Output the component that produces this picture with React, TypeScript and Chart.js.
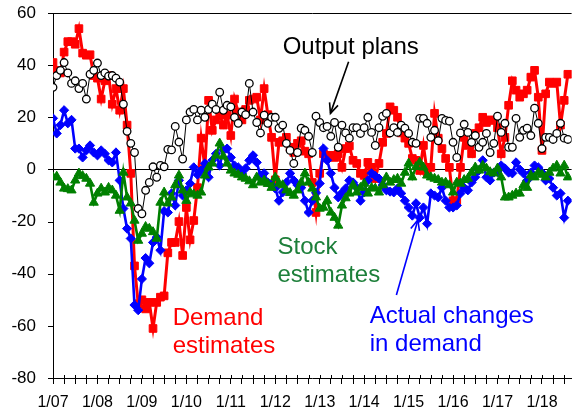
import React, { useEffect, useRef } from 'react';
import { Chart, registerables } from 'chart.js';

Chart.register(...registerables);

// Monthly observations from Jan 2007 (index 0) to Aug 2018 (index 139)
const yearLabels = ['1/07', '1/08', '1/09', '1/10', '1/11', '1/12', '1/13', '1/14', '1/15', '1/16', '1/17', '1/18'];
const yTickValues = [-80, -60, -40, -20, 0, 20, 40, 60];

const outputPlans = [
  31.5, 36, 38, 41, 37, 33, 34, 31, 33, 27, 36.5, 38,
  40.8, 36, 37, 35.8, 36, 35, 33.5, 25, 14.6, 10, 6.5, -15,
  -17, -8, -5, 1, -3, 1.5, 1, 7.7, 7.5, 16.5, 10.5, 4,
  19, 22, 23, 19, 22.7, 20, 23, 25, 23, 29.6, 22.7, 24.6,
  24, 20, 17.7, 22, 21, 33, 22, 18, 14, 20.8, 17.7, 20,
  20, 15.8, 17, 10, 7.3, 2.3, 6.5, 15.8, 15, 12.7, 6.5, 20.4,
  18, 16, 16.5, 12.7, 18, 8.5, 17, 14, 12, 16, 16, 13.8,
  16, 20, 14.2, 9.2, 16, 20.4, 21.5, 14, 16, 14.2, 17, 15.8,
  13.8, 10.4, 10, 19.6, 19.6, 17.7, 12.3, 15, 11, 19.6, 18.8, 18.5,
  10.4, 4.6, 14, 17.3, 14.2, 10.4, 13, 8.5, 10.4, 13.8, 6.5, 10,
  20.4, 14.2, 17.7, 8.5, 8.5, 19.6, 12.3, 15, 15.8, 13, 23.5, 17.7,
  8, 12.3, 12.3, 11.5, 13.8, 17.7, 12, 11.5,
];

const demandEstimates = [
  41, 38, 37, 45, 49, 49, 48, 54, 44.6, 43.8, 44, 36,
  35, 27, 34, 36, 25, 31, 22.7, 31, 17, -1.5, -37, -51.5,
  -50, -53.5, -51, -61, -51, -49, -48.5, -32, -28, -28, -20, -33,
  -14.6, -27, -19.6, -7, 12, 0.8, 26.5, 15, 19, 20.8, 17, 20.8,
  13, 27, 22, 19, 23, 26.5, 27, 27.7, 19, 31, 21, 12.3,
  -4, 10.4, 11, 12.3, 8.5, 6.5, 10, 11, 7, 6, -5, -16.5,
  -1.5, 6, 4.6, 5.4, 4.6, 6, 0.8, 8, 9, 3.5, 2.3, -1.5,
  -2.3, 2.7, 0.8, -3.5, 2.3, 10.4, 13.8, 24, 22.7, 20, 14, 12,
  10, 4.2, 3.5, -0.4, 9.2, -1, 0.8, 21.5, 12, 8, 4.2, 0.8,
  -12, -12, 0.8, 12.3, 9.2, 6, 13.8, 16, 20, 18, 19, 18.8,
  16, 6, 12.3, 24.6, 34, 30.4, 27.7, 29, 30.4, 35.4, 38, 27.7,
  7.3, 29, 33.5, 33, 33.5, 17, 26.5, 36.5,
];

const actualDemand = [
  19.6, 13.8, 17, 22.7, 17.7, 19, 8, 8, 4.6, 7.3, 9.2, 6.5,
  5.4, 7.3, 6, 3.5, 2.7, 6.5, -4.2, -15, -22.7, -26.5, -52, -54,
  -42, -34, -36, -28, -26, -31, -16, -16.5, -9.2, -13.8, -4.2, -10,
  -8, -5.4, 0.8, -2, -0.4, 2.3, -3, 3.5, 6, 1.5, 7.3, 8,
  4.6, 1.5, 0.8, -1.5, 0.4, 3.5, 5.4, 2.7, -2.3, -1.5, -5, -6,
  -7.3, -12, -8.8, -5, -1.5, -4.2, -6, -7, -12, -16.5, -12, -9,
  -5.4, 8, 3.5, -1.5, -7, -10.7, -9, -7.3, -4.2, -5, -7, -12,
  -8.8, -4.2, -1.5, -2.5, -3.5, -6, -8, -8.5, -8.8, -7.3, -9.2, -12,
  -14.6, -17.7, -13, -18.5, -14.6, -20.8, -9.2, -10, -10.7, -7, -12, -14.6,
  -14.6, -13.8, -9.2, -7, -8, -5, -3, -0.4, 3.5, -3, -4.2, -1.2,
  -1, 1.5, 0.4, -1.2, -1.5, 2.7, 0, -1.5, -4.2, -1.2, 1.5, 0.8,
  -1.2, -4.2, -3.5, -7, -10, -9.2, -18.5, -12,
];

const stockEstimates = [
  -3, -2.7, -5, -7.3, -7.5, -8, -4.2, -1.5, -2.5, -3.5, -5.4, -12.7,
  -9.2, -7.3, -8.8, -7, -8, -10, -15.8, -1.2, -10.7, -13, -19.6, -27.3,
  -24.6, -22, -22.7, -24, -26.5, -12.7, -8.8, -13, -10.7, -6, -2.3, -8,
  -12, -8.8, -9.5, -10, -8.8, -2.3, 0.8, 2.3, 5.4, 10, 5, 2.3,
  -0.4, -1.5, -2, -3, -3.5, -4.5, -6, -3, -5, -4.2, -5.5, -7,
  -3, -5.4, -6, -8, -9, -10, -8, -5, -1.5, -5, -7.3, -10.7,
  -15, -14.6, -12, -16.5, -18.5, -21.5, -13.8, -11, -9.2, -6, -8.8, -7,
  -5.4, -9.2, -7, -7.3, -8.8, -6, -3, -5, -4, -3.5, -5.4, -1.2,
  2.3, -3, 1, 2.7, 0.8, -2.3, -3, -3.5, -4, -5, -5, -6,
  -8.8, -5, -5.4, -4, -3.5, -1.2, 0.8, -0.4, 1.5, 0.4, -1, -1.5,
  0.4, -3, -10.7, -10.7, -10, -9.2, -9.2, -6, -7, -2.3, -3, -1.2,
  -2, -3, -1.2, 0.4, 1.5, -1.5, 1.5, -3,
];

const RED = '#FF0000';
const BLUE = '#0000FF';
const GREEN = '#008000';
const GREEN_TEXT = '#1d7f3a';

// Text annotations (anchored in data coordinates: month index, value)
const noteTexts = ['Output plans', 'Demand', 'estimates', 'Stock', 'estimates', 'Actual changes', 'in demand'];
const noteX = [62, 32.3, 32.3, 60.6, 60.6, 85.5, 85.5];
const noteY = [44.3, -59.6, -70.4, -32.4, -43.2, -59, -69.8];
const noteColors = ['#000000', RED, RED, GREEN_TEXT, GREEN_TEXT, BLUE, BLUE];

const arrows = [
  { from: [79.8, 41.3], to: [74.9, 21.5], color: '#000000' },
  { from: [92.7, -48.2], to: [98.5, -19.4], color: BLUE },
];

const toPoints = (arr: number[]) => arr.map((v, i) => ({ x: i, y: v }));

const FONT_FAMILY = '"Liberation Sans", Arial, Helvetica, sans-serif';

const annotationPlugin = {
  id: 'annotations',
  afterDatasetsDraw(chart: any) {
    const { ctx, chartArea, scales } = chart;
    const xs = scales.x;
    const ys = scales.y;
    ctx.save();
    ctx.strokeStyle = '#000';
    ctx.lineWidth = 1;
    // top frame line
    ctx.beginPath();
    ctx.moveTo(chartArea.left, Math.round(chartArea.top) + 0.5);
    ctx.lineTo(chartArea.right, Math.round(chartArea.top) + 0.5);
    ctx.stroke();
    // y tick marks (outside, left)
    const left = Math.round(chartArea.left);
    yTickValues.forEach((v) => {
      const py = Math.round(ys.getPixelForValue(v)) + 0.5;
      ctx.beginPath();
      ctx.moveTo(left - 5, py);
      ctx.lineTo(left, py);
      ctx.stroke();
    });
    // small upward parts of the x ticks
    const bottom = Math.round(chartArea.bottom);
    for (let m = 0; m <= 138; m += 3) {
      const px = Math.round(xs.getPixelForValue(m)) + 0.5;
      ctx.beginPath();
      ctx.moveTo(px, bottom - 3);
      ctx.lineTo(px, bottom);
      ctx.stroke();
    }
    // texts
    ctx.font = '24px ' + FONT_FAMILY;
    ctx.textBaseline = 'alphabetic';
    ctx.textAlign = 'left';
    noteTexts.forEach((t, i) => {
      ctx.fillStyle = noteColors[i];
      ctx.fillText(t, xs.getPixelForValue(noteX[i]), ys.getPixelForValue(noteY[i]));
    });
    // arrows
    arrows.forEach((a) => {
      const x1 = xs.getPixelForValue(a.from[0]);
      const y1 = ys.getPixelForValue(a.from[1]);
      const x2 = xs.getPixelForValue(a.to[0]);
      const y2 = ys.getPixelForValue(a.to[1]);
      ctx.strokeStyle = a.color;
      ctx.lineWidth = 1.6;
      ctx.beginPath();
      ctx.moveTo(x1, y1);
      ctx.lineTo(x2, y2);
      ctx.stroke();
      const ang = Math.atan2(y2 - y1, x2 - x1);
      const len = 11;
      const spread = 0.42;
      ctx.beginPath();
      ctx.moveTo(x2 - len * Math.cos(ang - spread), y2 - len * Math.sin(ang - spread));
      ctx.lineTo(x2, y2);
      ctx.lineTo(x2 - len * Math.cos(ang + spread), y2 - len * Math.sin(ang + spread));
      ctx.stroke();
    });
    ctx.restore();
  },
};

export default function App() {
  const canvasRef = useRef<HTMLCanvasElement | null>(null);

  useEffect(() => {
    if (!canvasRef.current) return;
    const chart = new Chart(canvasRef.current, {
      type: 'line',
      data: {
        datasets: [
          {
            label: 'Output plans',
            data: toPoints(outputPlans),
            borderColor: '#000',
            borderWidth: 1,
            pointStyle: 'circle',
            pointRadius: 3.8,
            pointBackgroundColor: '#fff',
            pointBorderColor: '#000',
            pointBorderWidth: 1.3,
            tension: 0,
            order: 0,
          },
          {
            label: 'Stock estimates',
            data: toPoints(stockEstimates),
            borderColor: GREEN,
            borderWidth: 2.6,
            pointStyle: 'triangle',
            pointRadius: 5.3,
            pointBackgroundColor: GREEN,
            pointBorderColor: GREEN,
            pointBorderWidth: 1,
            tension: 0,
            order: 1,
          },
          {
            label: 'Actual changes in demand',
            data: toPoints(actualDemand),
            borderColor: BLUE,
            borderWidth: 2.6,
            pointStyle: 'rectRot',
            pointRadius: 4.6,
            pointBackgroundColor: BLUE,
            pointBorderColor: BLUE,
            pointBorderWidth: 1,
            tension: 0,
            order: 2,
          },
          {
            label: 'Demand estimates',
            data: toPoints(demandEstimates),
            borderColor: RED,
            borderWidth: 3,
            pointStyle: 'rect',
            pointRadius: 5.4,
            pointBackgroundColor: RED,
            pointBorderColor: RED,
            pointBorderWidth: 1,
            tension: 0,
            order: 3,
          },
        ],
      },
      options: {
        responsive: false,
        animation: false,
        devicePixelRatio: 1,
        layout: { padding: { top: 13, right: 1, left: 0, bottom: 0 } },
        plugins: {
          legend: { display: false },
          tooltip: { enabled: false },
        },
        scales: {
          x: {
            type: 'linear',
            min: 0,
            max: 140,
            afterFit: (s: any) => {
              s.height = 33;
            },
            border: { display: true, color: '#000', width: 1 },
            grid: {
              drawOnChartArea: false,
              drawTicks: true,
              tickLength: 6,
              tickColor: '#000',
              color: '#000',
            },
            ticks: {
              stepSize: 3,
              includeBounds: false,
              autoSkip: false,
              maxRotation: 0,
              minRotation: 0,
              padding: 9,
              color: '#000',
              font: { family: FONT_FAMILY, size: 16 },
              callback: (v: any) => {
                const n = Math.round(Number(v));
                return n % 12 === 0 ? yearLabels[n / 12] ?? '' : '';
              },
            },
          },
          y: {
            type: 'linear',
            min: -80,
            max: 60,
            afterFit: (s: any) => {
              s.width = 53;
            },
            border: { display: true, color: '#000', width: 1 },
            grid: {
              drawOnChartArea: true,
              drawTicks: true,
              tickLength: 17,
              tickColor: 'rgba(0,0,0,0)',
              lineWidth: 1,
              color: (c: any) => (c.tick && c.tick.value === 0 ? '#000' : 'rgba(0,0,0,0)'),
            },
            ticks: {
              stepSize: 20,
              padding: 0,
              color: '#000',
              font: { family: FONT_FAMILY, size: 17 },
            },
          },
        },
      },
      plugins: [annotationPlugin],
    } as any);
    return () => chart.destroy();
  }, []);

  return (
    <div style={{ position: 'fixed', left: 0, top: 0, width: 578, height: 411, background: '#fff' }}>
      <canvas ref={canvasRef} width={578} height={411} style={{ display: 'block' }} />
    </div>
  );
}
